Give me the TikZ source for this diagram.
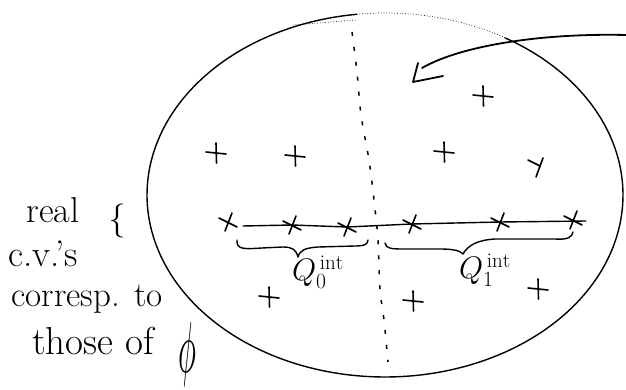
\documentclass[tikz,border=0pt]{standalone}
\usepackage{fontspec}
\usepackage{graphicx}
\tikzset{
  ink/.style={line width=1.4pt, line cap=round, line join=round},
  plusm/.pic={\draw[ink, line width=1.6pt] (-10,-1) -- (10,1) (0,-10) -- (0.5,10);},
  xm/.pic={\draw[ink, line width=1.6pt] (-9,-4) -- (9,5) (4,-9) -- (-3,9);},
  hand/.style={inner sep=0pt},
  qlab/.style={inner sep=0pt, font=\fontsize{24}{24}\selectfont}
}
\begin{document}
\begin{tikzpicture}[x=1pt,y=-1pt]
\useasboundingbox (0,0) rectangle (626,390);
% outer ellipse (solid part)
\draw[ink] plot[smooth, samples=120, domain=96.8:419.7] ({385+238*cos(\x)},{195-182*sin(\x)});
% dotted top-right part
\draw[line width=0.7pt, dotted] plot[smooth, samples=30, domain=59.7:96.8] ({385+238*cos(\x)},{195-182*sin(\x)});
\draw[line width=0.7pt, dotted] (293,25) -- (357,20);
% dotted separator
\draw[line width=1.5pt, dash pattern=on 4pt off 11pt] plot[smooth] coordinates {(352,32) (357,72) (361,115) (369,160) (374,200) (378,240) (380,290) (384,320) (388,362)};
% arrow from the right
\coordinate (ain) at (626,35);
\coordinate (aend) at (422,68);
\coordinate (tip) at (413,82);
\draw[ink, line width=1.8pt] (ain) .. controls (540,33) and (460,46) .. (aend);
\draw[ink, line width=1.8pt] (418,63) -- (tip) -- (443,76);
% plus marks
\path (216,153) pic {plusm} (295,156) pic {plusm} (444,152) pic {plusm}
      (483,96) pic {plusm} (269,297) pic {plusm} (413,301) pic {plusm} (538,289) pic {plusm};
\draw[ink, line width=1.6pt] (528,160) -- (540,166) (543,158) -- (536,177);
% x marks on the line
\coordinate (x1) at (228,222);
\coordinate (x2) at (292,225);
\coordinate (x3) at (347,227);
\coordinate (x4) at (412,224);
\coordinate (x5) at (500,222);
\coordinate (x6) at (573,220);
\path (x1) pic {xm} (x2) pic {xm} (x3) pic {xm} (x4) pic {xm} (x5) pic {xm} (x6) pic {xm};
\draw[ink] (243,226) -- (x2) -- (x3) -- (x4) -- (x5) -- (586,221);
% braces
\draw[ink] (237,240) .. controls (236,250) and (245,249) .. (262,248) -- (283,247)
  .. controls (293,247) and (296,250) .. (298,257)
  .. controls (300,250) and (305,248) .. (318,247) -- (355,246)
  .. controls (365,246) and (368,244) .. (368,240);
\draw[ink] (385,243) .. controls (386,249) and (392,249) .. (405,249) -- (440,249)
  .. controls (455,249) and (460,251) .. (463,254)
  .. controls (468,245) and (478,240) .. (495,239) -- (555,239)
  .. controls (568,240) and (572,237) .. (573,232);
% labels
\node[qlab] (q0) at (318,272) {\scalebox{1.25}{$Q_0^{\,\mathrm{int}}$}};
\node[qlab] (q1) at (485,270) {\scalebox{1.25}{$Q_1^{\,\mathrm{int}}$}};
% left annotation
\node[hand, font=\fontsize{36}{36}\selectfont] (real) at (53,210) {real};
\node[hand, font=\fontsize{34}{34}\selectfont] (lbr) at (117,221) {\{};
\node[hand, font=\fontsize{37}{37}\selectfont] (cvs) at (43,254) {c.v.'s};
\node[hand, font=\fontsize{35}{35}\selectfont] (corr) at (87,299) {corresp. to};
\node[hand, font=\fontsize{39}{39}\selectfont] (those) at (93,341) {those of};
\node[inner sep=0pt] (phi) at (187,354) {\scalebox{3}[7.2]{$\phi$}};
\end{tikzpicture}
\end{document}
